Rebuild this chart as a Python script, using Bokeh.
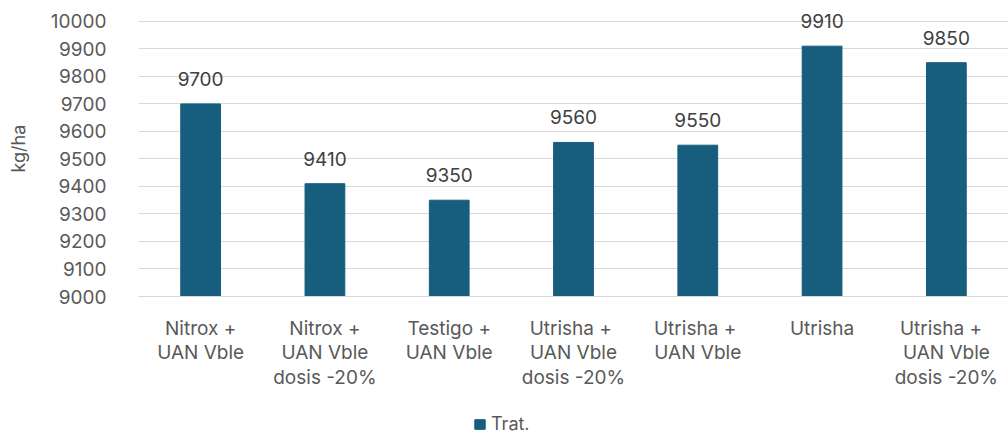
from bokeh.plotting import figure
from bokeh.layouts import column
from bokeh.models import ColumnDataSource, Legend, LegendItem, FixedTicker, LabelSet, Range1d, FactorRange
from bokeh.core.properties import value
from bokeh.embed import file_html
from bokeh.resources import INLINE

categories = [
    "Nitrox +\nUAN Vble",
    "Nitrox +\nUAN Vble\ndosis -20%",
    "Testigo +\nUAN Vble",
    "Utrisha  +\nUAN Vble\ndosis -20%",
    "Utrisha  +\nUAN Vble",
    "Utrisha",
    "Utrisha  + \nUAN Vble\ndosis -20%",
]
values = [9700, 9410, 9350, 9560, 9550, 9910, 9850]
series_name = "Trat."
y_ticks = list(range(9000, 10001, 100))

FONT = "Inter"
GRAY = "#595959"
BAR = "#175e7e"

src = ColumnDataSource(dict(cat=categories, val=values, lab=[str(v) for v in values]))

# frame top extended a little above 10000 so the value labels are not clipped
p = figure(width=1008, height=404, x_range=FactorRange(*categories, range_padding=0),
           y_range=Range1d(9000, 10076), output_backend="svg", toolbar_location=None,
           min_border_left=138, min_border_right=0, min_border_top=0, min_border_bottom=108)
p.outline_line_color = None
p.background_fill_color = "white"
p.border_fill_color = "white"

r = p.vbar(x="cat", top="val", bottom=9000, width=0.32, source=src, fill_color=BAR, line_color=BAR)

labels = LabelSet(x="cat", y="val", text="lab", source=src, text_align="center",
                  text_baseline="bottom", y_offset=18, text_font=value(FONT), text_font_size="19px",
                  text_color="#404040")
p.add_layout(labels)

p.yaxis.ticker = FixedTicker(ticks=y_ticks)
p.yaxis.axis_line_color = None
p.yaxis.major_tick_line_color = None
p.yaxis.minor_tick_line_color = None
p.yaxis.major_label_text_font = FONT
p.yaxis.major_label_text_font_size = "19px"
p.yaxis.major_label_text_color = GRAY
p.yaxis.major_label_standoff = 26
p.yaxis.axis_label = "kg/ha"
p.yaxis.axis_label_text_font = FONT
p.yaxis.axis_label_text_font_size = "18px"
p.yaxis.axis_label_text_font_style = "normal"
p.yaxis.axis_label_text_color = GRAY
p.yaxis.axis_label_standoff = 19

p.xaxis.axis_line_color = "#d9d9d9"
p.xaxis.major_tick_line_color = None
p.xaxis.minor_tick_line_color = None
p.xaxis.major_label_text_font = FONT
p.xaxis.major_label_text_font_size = "19px"
p.xaxis.major_label_text_color = GRAY
p.xaxis.major_label_standoff = 14
p.xaxis.major_label_text_align = "center"
p.xaxis.major_label_text_baseline = "top"
p.xaxis.major_label_text_line_height = 1.07

p.xgrid.grid_line_color = None
p.ygrid.grid_line_color = "#d9d9d9"
p.ygrid.ticker = FixedTicker(ticks=y_ticks)

# legend strip below the chart (its renderer is hidden; only the legend entry shows)
lf = figure(width=1008, height=30, x_range=FactorRange(*categories, range_padding=0),
            y_range=Range1d(0, 1), x_axis_type=None, y_axis_type=None, output_backend="svg",
            toolbar_location=None, min_border=0)
lf.outline_line_color = None
lf.grid.visible = False
lr = lf.vbar(x="cat", top="val", bottom=9000, width=0.32, source=src, fill_color=BAR, line_color=BAR)
lr.visible = False
legend = Legend(items=[LegendItem(label=series_name, renderers=[lr])], orientation="horizontal",
                location=(335, 0), label_text_font=FONT, label_text_font_size="18px",
                label_text_color=GRAY, glyph_width=13, glyph_height=12, border_line_color=None,
                background_fill_alpha=0, padding=0, margin=0, label_standoff=5, label_height=18,
                click_policy="none")
lf.add_layout(legend, "center")

layout = column(p, lf, spacing=0)
open("out.html", "w").write(file_html(layout, INLINE))
